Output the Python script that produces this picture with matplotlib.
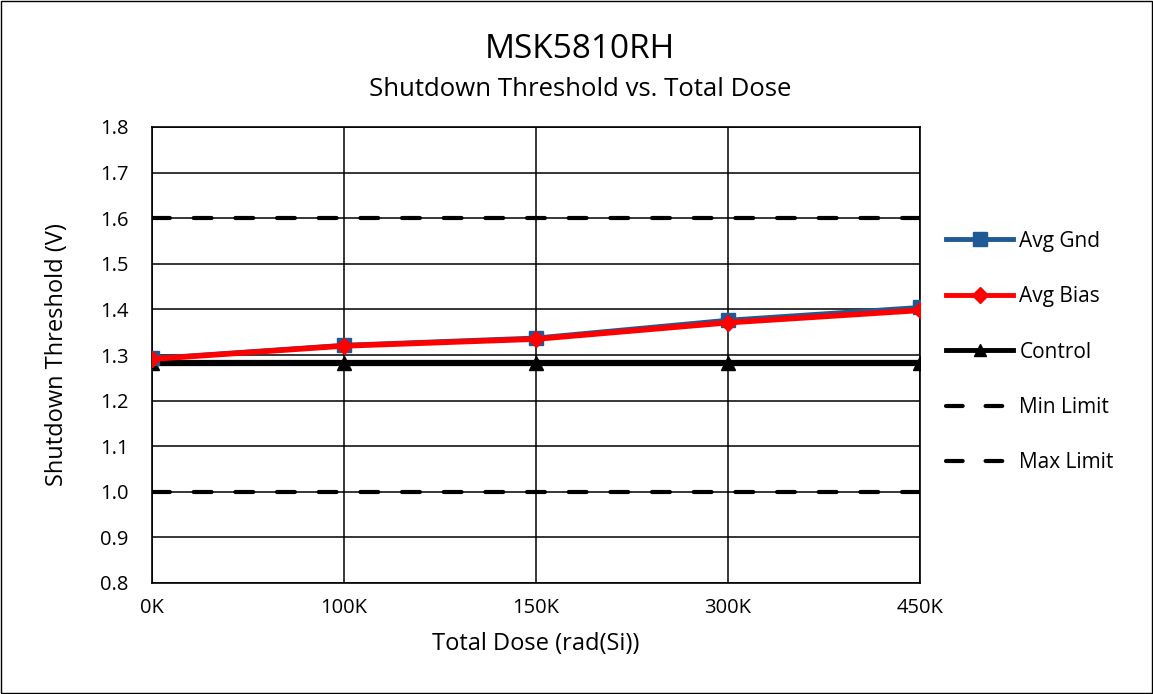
import numpy as np
import matplotlib
matplotlib.use('Agg')
import matplotlib.pyplot as plt
from matplotlib.lines import Line2D

plt.rcParams['font.family'] = ['Open Sans', 'DejaVu Sans']

doses = ['0K', '100K', '150K', '300K', '450K']
avg_gnd = [1.293, 1.322, 1.338, 1.377, 1.405]
avg_bias = [1.291, 1.320, 1.335, 1.371, 1.398]
control = [1.283, 1.283, 1.283, 1.283, 1.283]
min_limit = [1.0, 1.0, 1.0, 1.0, 1.0]
max_limit = [1.6, 1.6, 1.6, 1.6, 1.6]

gnd_color = '#1f5a94'
bias_color = '#ff0000'
dash = (0, (4.3, 5.7))

fig = plt.figure(figsize=(11.53, 6.94), dpi=100)
ax = fig.add_axes([152/1153, 1 - 583/694, (920-152)/1153, (583-127)/694])

x = np.arange(len(doses))

ax.plot(x, min_limit, color='k', lw=3, ls=dash, dash_capstyle='round',
        label='Min Limit', zorder=3)
ax.plot(x, max_limit, color='k', lw=3, ls=dash, dash_capstyle='round',
        label='Max Limit', zorder=3)
ax.plot(x, control, color='k', lw=4.5, marker='^', ms=10, label='Control', zorder=4)
ax.plot(x, avg_gnd, color=gnd_color, lw=3, marker='s', ms=10.5, label='Avg Gnd', zorder=5)
ax.plot(x, avg_bias, color=bias_color, lw=4, marker='D', ms=8, label='Avg Bias', zorder=6)

ax.set_xlim(0, 4)
ax.set_ylim(0.8, 1.8)
ax.set_xticks(x)
ax.set_xticklabels(doses)
ax.set_yticks(np.arange(0.8, 1.81, 0.1))
ax.yaxis.set_major_formatter(matplotlib.ticker.FormatStrFormatter('%.1f'))
ax.tick_params(length=0, labelsize=14.5)
ax.tick_params(axis='y', pad=17)
ax.tick_params(axis='x', pad=11)
ax.grid(True, color='k', lw=1.1)
for s in ax.spines.values():
    s.set_linewidth(1.2)
    s.set_color('k')

ax.set_xlabel('Total Dose (rad(Si))', fontsize=17, labelpad=10)
ax.set_ylabel('Shutdown Threshold (V)', fontsize=17, labelpad=22)

fig.text(0.503, 1 - 50/694, 'MSK5810RH', ha='center', va='center', fontsize=24)
fig.text(0.503, 1 - 90/694, 'Shutdown Threshold vs. Total Dose', ha='center', va='center', fontsize=18.5)

handles = [
    Line2D([], [], color=gnd_color, lw=3.5, marker='s', ms=10),
    Line2D([], [], color=bias_color, lw=3.5, marker='D', ms=8),
    Line2D([], [], color='k', lw=3.5, marker='^', ms=9),
    Line2D([], [], color='k', lw=3, ls=(0, (4.0, 5.5)), dash_capstyle='round'),
    Line2D([], [], color='k', lw=3, ls=(0, (4.0, 5.5)), dash_capstyle='round'),
]
labels = ['Avg Gnd', 'Avg Bias', 'Control', 'Min Limit', 'Max Limit']
fig.legend(handles, labels, loc='center left', bbox_to_anchor=(936/1153, 1 - 352/694),
           frameon=False, fontsize=15, handlelength=3.2, handletextpad=0.3,
           labelspacing=1.65, borderpad=0)

fig.add_artist(plt.Rectangle((0.001, 0.001), 0.998, 0.998, transform=fig.transFigure,
                             fill=False, edgecolor='k', lw=1))

fig.savefig('out.png', dpi=100)
